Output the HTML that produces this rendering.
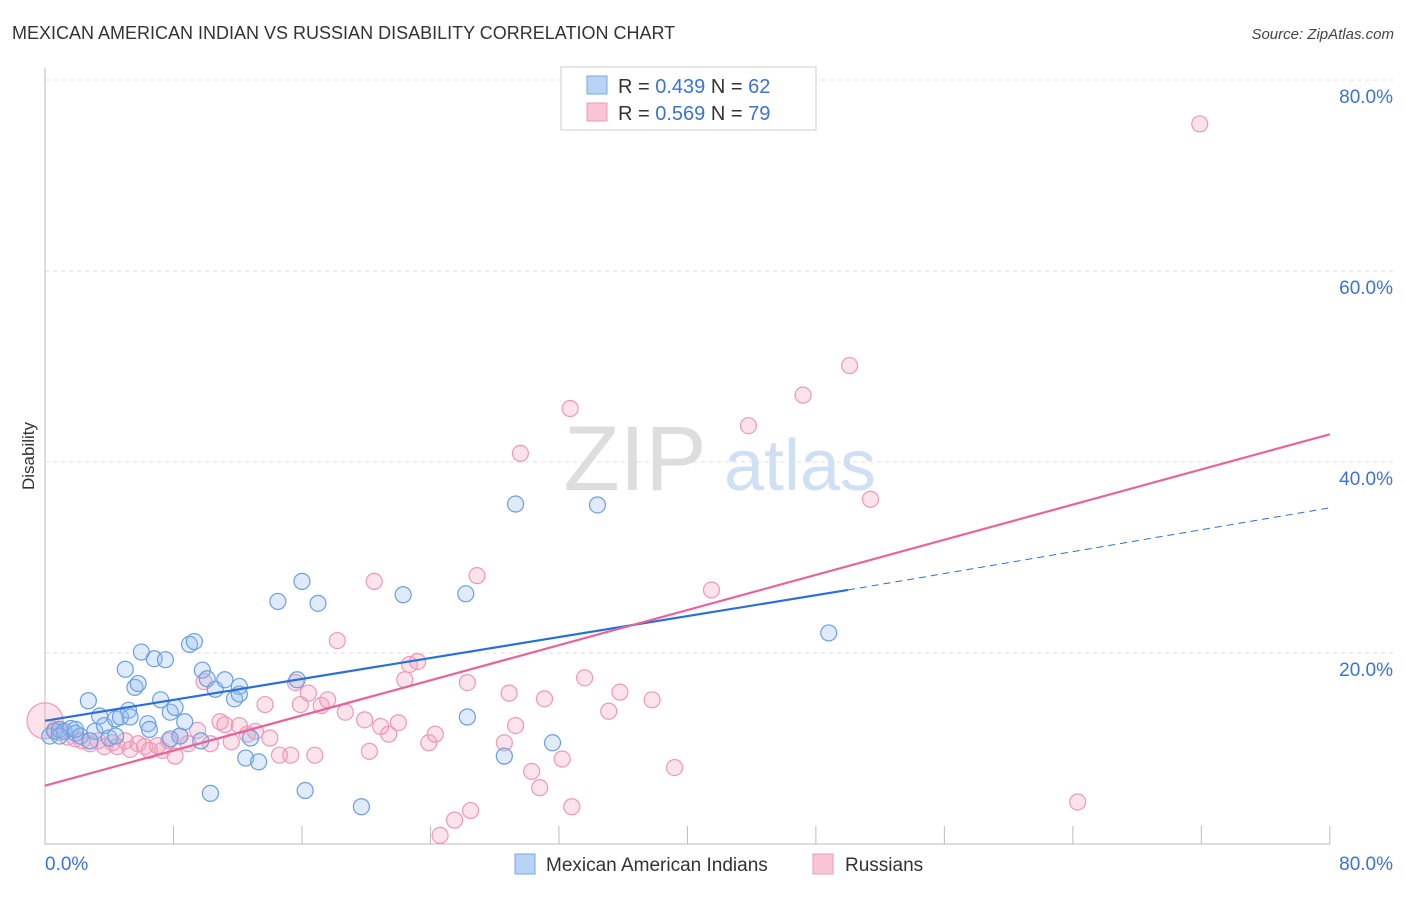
<!DOCTYPE html>
<html><head><meta charset="utf-8">
<style>
body{margin:0;background:#fff;font-family:"Liberation Sans",sans-serif;}
svg text{font-family:"Liberation Sans",sans-serif;}
</style></head>
<body>
<svg width="1406" height="892" xmlns="http://www.w3.org/2000/svg" id="chart">
<text x="12" y="39" font-size="18" fill="#333">MEXICAN AMERICAN INDIAN VS RUSSIAN DISABILITY CORRELATION CHART</text>
<text x="1394" y="39" font-size="15" fill="#444" text-anchor="end" font-style="italic">Source: ZipAtlas.com</text>
<text x="34" y="456" font-size="17" fill="#333" text-anchor="middle" transform="rotate(-90 34 456)">Disability</text>
<g>
<text x="635" y="490" font-size="92" fill="#ddd" text-anchor="middle" font-family="Liberation Serif">ZIP</text>
<text x="800" y="490" font-size="72" fill="#cfe0f5" text-anchor="middle">atlas</text>
</g>
<g id="grid"></g>
<g id="marks"></g>
<g>
<rect x="561" y="67" width="255" height="63" fill="#fff" stroke="#ccc"/>
<rect x="587" y="76" width="20" height="18" fill="#b8d3f5" stroke="#7aa7e0"/>
<rect x="587" y="103" width="20" height="18" fill="#f9c4d5" stroke="#ec9ab5"/>
<text x="618" y="93" font-size="20" fill="#333">R = <tspan fill="#3b73d1">0.439</tspan>   N = <tspan fill="#3b73d1">62</tspan></text>
<text x="618" y="120" font-size="20" fill="#333">R = <tspan fill="#3b73d1">0.569</tspan>   N = <tspan fill="#3b73d1">79</tspan></text>
</g>
<g>
<rect x="515" y="854" width="20" height="20" fill="#b8d3f5" stroke="#7aa7e0"/>
<text x="546" y="871" font-size="19" fill="#333">Mexican American Indians</text>
<rect x="813" y="854" width="20" height="20" fill="#f9c4d5" stroke="#ec9ab5"/>
<text x="845" y="871" font-size="19" fill="#333">Russians</text>
</g>
</svg>
<script>
const xTicks=[0,10,20,30,40,50,60,70,80,90,100];
const yTicks=[20,40,60,80];
const blueX=[0.3,0.6,0.9,1.2,1.6,1.9,2.2,2.7,3.1,3.4,3.7,4.0,4.4,4.7,5.0,5.2,5.6,5.8,6.0,6.4,6.5,6.8,7.2,7.5,7.8,8.1,8.4,8.7,9.0,9.3,9.7,9.8,10.1,10.3,10.6,11.2,11.8,12.1,12.5,12.8,13.3,14.5,16.0,16.2,17.0,15.7,19.7,22.3,26.2,26.3,28.6,29.3,31.6,34.4,48.8,12.1,4.4,0.9,7.8,2.8,5.3,1.9];
const blueY=[11.3,11.8,12.0,11.8,12.1,11.6,11.3,15.0,11.8,13.4,12.4,11.1,13.1,13.3,18.3,14.0,16.4,16.8,20.1,12.6,12.0,19.4,15.1,19.3,13.8,14.3,11.3,12.8,20.9,21.2,10.8,18.2,17.3,5.3,16.2,17.2,15.2,16.5,9.0,11.1,8.6,25.4,27.5,5.6,25.2,17.2,3.9,26.1,26.2,13.3,9.2,35.6,10.6,35.5,22.1,15.7,11.3,11.3,11.0,10.8,13.3,12.0];
const pinkX=[0,0.6,0.9,1.4,1.9,2.3,2.8,3.3,3.7,4.2,4.5,5.0,5.3,5.8,6.2,6.5,7.0,7.3,7.7,8.1,8.4,8.9,9.5,9.9,10.3,10.9,11.2,11.6,12.1,12.6,13.1,13.7,14.0,14.6,15.3,15.6,15.9,16.4,16.8,17.2,17.6,18.2,18.7,19.9,20.2,20.5,20.9,21.4,22.0,22.4,22.7,23.2,23.9,24.3,24.6,25.5,26.5,26.3,26.9,28.6,28.9,29.3,29.6,30.3,30.8,31.1,32.2,32.7,32.8,33.6,35.1,35.8,37.8,39.2,41.5,43.8,47.2,50.1,51.4,64.3,71.9];
const pinkY=[12.9,12.0,11.7,11.2,11.0,10.8,10.5,10.8,10.2,10.6,10.2,10.8,9.9,10.5,10.2,9.8,10.3,9.8,10.8,9.2,11.3,10.5,11.9,17.0,10.5,12.8,12.5,10.7,12.4,11.5,11.8,14.6,11.1,9.3,9.3,16.9,14.6,15.8,9.3,14.5,15.1,21.3,13.8,13.0,9.7,27.5,12.3,11.5,12.7,17.2,18.8,19.1,10.6,11.5,0.9,2.5,3.5,16.9,28.1,10.6,15.8,12.4,40.9,7.6,5.9,15.2,8.9,45.6,3.9,17.4,13.9,15.9,15.1,8.0,26.6,43.8,47.0,50.1,36.1,4.4,75.4];
const blueLine=[0,12.9,50,26.6,80,35.2];
const pinkLine=[0,6.1,80,42.9];
const X=v=>45+v*16.06, Y=v=>844-v*9.55;
const NS='http://www.w3.org/2000/svg';
const grid=document.getElementById('grid'), marks=document.getElementById('marks');
function mk(p,tag,a){const e=document.createElementNS(NS,tag);for(const k in a)e.setAttribute(k,a[k]);p.appendChild(e);return e;}
let ax=mk(grid,'line',{x1:45,y1:844,x2:1330,y2:844,stroke:'#bbb'});


let ay=mk(grid,'line',{x1:45,y1:68,x2:45,y2:844,stroke:'#bbb'});


xTicks.forEach(t=>{const x=X(t*0.8);const e=mk(grid,'line',{x1:x,y1:826,x2:x,y2:844,stroke:'#bbb'});

});
yTicks.forEach(t=>{const g=mk(grid,'line',{x1:45,y1:Y(t),x2:1395,y2:Y(t),stroke:'#ddd','stroke-dasharray':'4 4'});


const l=mk(grid,'text',{x:1393,y:Y(t)+23,'font-size':19,fill:'#3b73d1','text-anchor':'end'});l.textContent=t.toFixed(1)+'%';

});
[[45,'start','0.0%'],[1393,'end','80.0%']].forEach(d=>{const l=mk(grid,'text',{x:d[0],y:870,'font-size':19,fill:'#3b73d1','text-anchor':d[1]});l.textContent=d[2];

});
pinkX.forEach((v,i)=>{const c=mk(marks,'circle',{cx:X(v),cy:Y(pinkY[i]),r:i==0?18:8,fill:'rgba(244,160,190,0.3)',stroke:'#ee98b5','stroke-width':1.2});

});
blueX.forEach((v,i)=>{const c=mk(marks,'circle',{cx:X(v),cy:Y(blueY[i]),r:8,fill:'rgba(150,190,240,0.3)',stroke:'#6a9fe0','stroke-width':1.2});

});
let b1=mk(marks,'line',{x1:X(blueLine[0]),y1:Y(blueLine[1]),x2:X(blueLine[2]),y2:Y(blueLine[3]),stroke:'#2a6fd6','stroke-width':2.2});


let b2=mk(marks,'line',{x1:X(blueLine[2]),y1:Y(blueLine[3]),x2:X(blueLine[4]),y2:Y(blueLine[5]),stroke:'#2a6fd6','stroke-width':1,'stroke-dasharray':'7 5'});


let p1=mk(marks,'line',{x1:X(pinkLine[0]),y1:Y(pinkLine[1]),x2:X(pinkLine[2]),y2:Y(pinkLine[3]),stroke:'#e8639a','stroke-width':2.2});


</script>
</body></html>
